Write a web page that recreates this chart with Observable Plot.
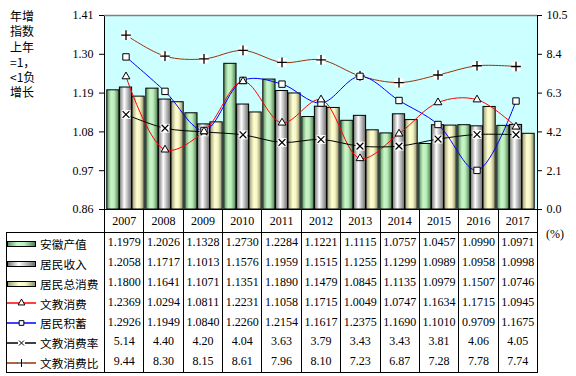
<!DOCTYPE html>
<html><head><meta charset="utf-8">
<script src="https://cdn.jsdelivr.net/npm/d3@7"></script>
<script src="https://cdn.jsdelivr.net/npm/@observablehq/plot@0.6"></script>
<style>
body{margin:0;background:#fff;}
#wrap{position:relative;width:576px;height:376px;overflow:hidden;background:#fff;}
#ylab{position:absolute;left:10px;top:8px;font:12px/15.3px "Noto Sans CJK SC",sans-serif;color:#000;white-space:pre-line;}
#pct{position:absolute;left:546px;top:227px;font:12px "Liberation Serif",serif;color:#000;}
#chart{position:absolute;left:0;top:0;}
#tbl{position:absolute;left:6px;top:209px;border-collapse:collapse;table-layout:fixed;width:531px;font:12px "Liberation Serif",serif;color:#000;}
#tbl td{padding:0;text-align:center;vertical-align:middle;white-space:nowrap;overflow:visible;}
#tbl tr.yr td{height:22px;border:1px solid #000;}
#tbl tr.yr td.blank{border:none;border-bottom:1px solid #000;}
#tbl tr.dr td{height:19.8px;border-left:1px solid #000;border-right:1px solid #000;}
#tbl tr.dr:last-child td{border-bottom:1px solid #000;}
#tbl td.lg{text-align:left;font:11.7px "Noto Sans CJK SC",sans-serif;}
#tbl td.lg svg{vertical-align:middle;margin-right:3px;}
#tbl td.lg span{vertical-align:middle;}
</style></head>
<body>
<div id="wrap">
  <div id="ylab"></div>
  <div id="chart"></div>
  <div id="pct">(%)</div>
</div>
<script>
// ---- data ----
const years = ["2007","2008","2009","2010","2011","2012","2013","2014","2015","2016","2017"];
const gdp = [1.1979,1.2026,1.1328,1.2730,1.2284,1.1221,1.1115,1.0757,1.0457,1.0990,1.0971];
const income = [1.2058,1.1717,1.1013,1.1576,1.1959,1.1515,1.1255,1.1299,1.0989,1.0958,1.0998];
const consumption = [1.1800,1.1641,1.1071,1.1351,1.1890,1.1479,1.0845,1.1135,1.0979,1.1507,1.0746];
const eduCons = [1.2369,1.0294,1.0811,1.2231,1.1058,1.1715,1.0049,1.0747,1.1634,1.1715,1.0945];
const savings = [1.2926,1.1949,1.0840,1.2260,1.2154,1.1617,1.2375,1.1690,1.1010,0.9709,1.1675];
const eduRate = [5.14,4.40,4.20,4.04,3.63,3.79,3.43,3.43,3.81,4.06,4.05];
const eduRatio = [9.44,8.30,8.15,8.61,7.96,8.10,7.23,6.87,7.28,7.78,7.74];
const leftTicks = [0.86,0.97,1.08,1.19,1.30,1.41];
const rightTicks = [0.0,2.1,4.2,6.3,8.4,10.5];
const names = ["安徽产值","居民收入","居民总消费","文教消费","居民积蓄","文教消费率","文教消费比"];
const yTitle = ["年增","指数","上年","=1，","<1负","增长"];

document.getElementById("ylab").textContent = yTitle.join("\n");

// ---- helpers ----
const L0 = leftTicks[0], L1 = leftTicks[leftTicks.length-1];
const R0 = rightTicks[0], R1 = rightTicks[rightTicks.length-1];
const toL = v => L0 + (v - R0) / (R1 - R0) * (L1 - L0);
const toR = v => R0 + (v - L0) / (L1 - L0) * (R1 - R0);
const rows = years.map((y,i)=>({year:y, gdp:gdp[i], income:income[i], cons:consumption[i],
  edu:eduCons[i], sav:savings[i], rate:toL(eduRate[i]), ratio:toL(eduRatio[i])}));

const W = 576, mL = 104, mR = 39;
const bw = (W - mL - mR) / years.length;
const gap = 0.8, barW = (bw - 2*gap) / 3;
const ins = k => ({insetLeft: gap + k*barW, insetRight: bw - gap - (k+1)*barW});

const gradients = [
  ["gGreen", [["0%","#5e8f5e"],["35%","#c8f6c8"],["60%","#bdeebd"],["100%","#4c7c4c"]]],
  ["gGray",  [["0%","#707070"],["40%","#ffffff"],["100%","#6a6a6a"]]],
  ["gYellow",[["0%","#9a9a76"],["40%","#ffffd0"],["65%","#f4f4c4"],["100%","#8a8a66"]]]
];
function defsMark(){
  const d = d3.create("svg:defs");
  for (const [id, stops] of gradients){
    const g = d.append("linearGradient").attr("id", id).attr("x1","0").attr("x2","1").attr("y1","0").attr("y2","0");
    for (const [o,c] of stops) g.append("stop").attr("offset", o).attr("stop-color", c);
  }
  return d.node();
}

const chart = Plot.plot({
  width: W, height: 232,
  marginLeft: mL, marginRight: mR, marginTop: 15, marginBottom: 23,
  x: {type:"band", domain: years, padding: 0, axis: null},
  y: {domain: [L0, L1]},
  style: {background:"transparent", fontFamily:"Liberation Serif, serif", fontSize:"12px", color:"#000"},
  marks: [
    defsMark,
    Plot.frame({fill:"#ccffff", stroke:"none"}),
    Plot.barY(rows, {x:"year", y1: () => L0, y2:"gdp", fill:"url(#gGreen)", stroke:"#000", strokeWidth:1, ...ins(0)}),
    Plot.barY(rows, {x:"year", y1: () => L0, y2:"income", fill:"url(#gGray)", stroke:"#000", strokeWidth:1, ...ins(1)}),
    Plot.barY(rows, {x:"year", y1: () => L0, y2:"cons", fill:"url(#gYellow)", stroke:"#000", strokeWidth:1, ...ins(2)}),
    Plot.frame({stroke:"#000", fill:"none"}),
    Plot.ruleY([L1], {stroke:"#808080", strokeWidth:1.5}),
    Plot.axisY(leftTicks, {anchor:"left", tickSize:5, tickPadding:6, tickFormat: d => d.toFixed(2), label:null, stroke:"#000"}),
    Plot.axisY(rightTicks.map(toL), {anchor:"right", tickSize:4, tickPadding:5, tickFormat: d => toR(d).toFixed(1), label:null, stroke:"#000"}),
    Plot.line(rows, {x:"year", y:"ratio", stroke:"#993300", strokeWidth:1, curve:"catmull-rom"}),
    Plot.line(rows, {x:"year", y:"sav", stroke:"#0000ff", strokeWidth:1, curve:"catmull-rom"}),
    Plot.line(rows, {x:"year", y:"edu", stroke:"#ff0000", strokeWidth:1, curve:"catmull-rom"}),
    Plot.line(rows, {x:"year", y:"rate", stroke:"#000", strokeWidth:1, curve:"catmull-rom"}),
    Plot.dot(rows, {x:"year", y:"ratio", symbol:"square", r:5, fill:"#fff", stroke:"none"}),
    Plot.dot(rows, {x:"year", y:"ratio", symbol:"plus", r:3.2, stroke:"#000", strokeWidth:1.3}),
    Plot.dot(rows, {x:"year", y:"rate", symbol:"square", r:5, fill:"#fff", stroke:"none"}),
    Plot.dot(rows, {x:"year", y:"rate", symbol:"times", r:3.2, stroke:"#000", strokeWidth:1.2}),
    Plot.dot(rows, {x:"year", y:"sav", symbol:"square", r:3.6, fill:"#fff", stroke:"#000", strokeWidth:1}),
    Plot.dot(rows, {x:"year", y:"edu", symbol:"triangle", r:2.9, fill:"#fff", stroke:"#000", strokeWidth:1})
  ]
});
document.getElementById("chart").appendChild(chart);

// ---- table ----
const tbl = d3.select("#wrap").append("table").attr("id","tbl");
const cg = tbl.append("colgroup");
cg.append("col").style("width", (mL - 6) + "px");
years.forEach(() => cg.append("col").style("width", bw + "px"));
const yr = tbl.append("tr").attr("class","yr");
yr.append("td").attr("class","blank");
years.forEach(y => yr.append("td").text(y));

const series = [gdp, income, consumption, eduCons, savings, eduRate, eduRatio];
const fmts = [4,4,4,4,4,2,2];
function swatch(k){
  const s = d3.create("svg").attr("width", 30).attr("height", 12);
  if (k < 3){
    s.append("rect").attr("x",0.5).attr("y",3.5).attr("width",28).attr("height",5)
      .attr("fill", ["url(#gGreen)","url(#gGray)","url(#gYellow)"][k]).attr("stroke","#000");
  } else {
    const col = ["#ff0000","#0000ff","#000000","#993300"][k-3];
    s.append("path").attr("d","M0,6H29").attr("fill","none")
      .attr("style", "stroke:" + col + ";stroke-width:1.5px");
    const sym = [d3.symbolTriangle, d3.symbolSquare, d3.symbolTimes, d3.symbolPlus][k-3];
    const size = [20, 22, 18, 22][k-3];
    if (k >= 5) s.append("rect").attr("x",11).attr("y",2.5).attr("width",7).attr("height",7).attr("fill","#fff");
    const p = s.append("path").attr("transform","translate(14.5,6)").attr("d", d3.symbol(sym, size)());
    if (k < 5) p.attr("fill","#fff").attr("stroke","#000");
    else p.attr("fill","none").attr("stroke","#000");
  }
  return s.node();
}
series.forEach((arr, k) => {
  const tr = tbl.append("tr").attr("class","dr");
  const lg = tr.append("td").attr("class","lg");
  lg.node().appendChild(swatch(k));
  lg.append("span").text(names[k]);
  arr.forEach(v => tr.append("td").text(v.toFixed(fmts[k])));
});
d3.select("#tbl tr.dr").selectAll("td").style("border-top","1px solid #000");
</script>
</body></html>
